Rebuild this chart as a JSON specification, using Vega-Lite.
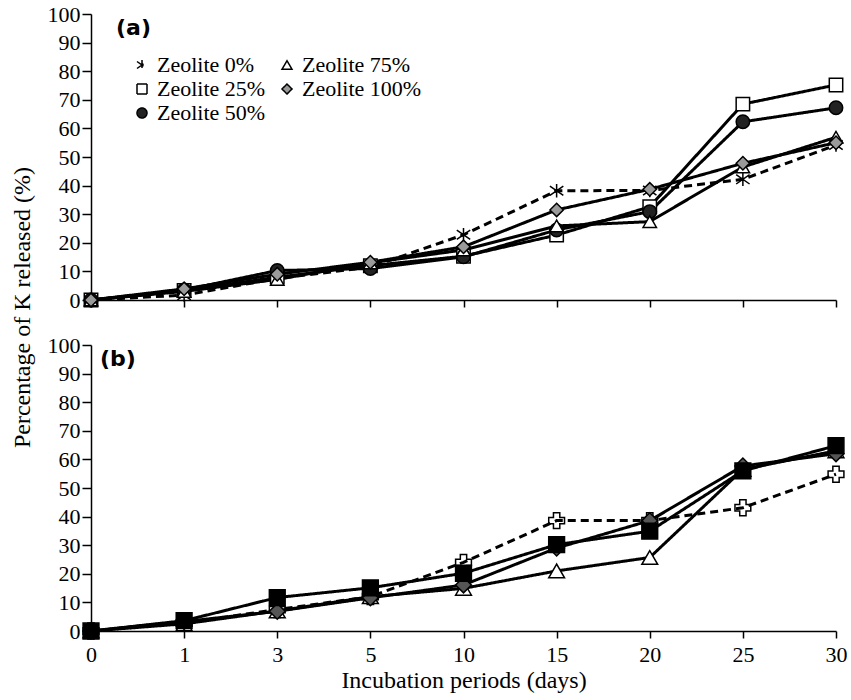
{
  "$schema": "https://vega.github.io/schema/vega-lite/v6.json",
  "background": "white",
  "padding": {"left": 10, "top": 3, "right": 10, "bottom": 3},
  "spacing": 45,
  "bounds": "flush",
  "resolve": {"scale": {"shape": "independent", "fill": "independent", "strokeDash": "independent"}, "legend": {"shape": "independent", "fill": "independent", "strokeDash": "independent"}},
  "config": {
    "view": {"stroke": null},
    "axis": {"labelFont": "Liberation Serif", "labelFontSize": 22, "labelColor": "black", "titleFont": "Liberation Serif", "titleFontSize": 24, "titleFontWeight": "normal", "titleColor": "black", "domainColor": "black", "tickColor": "black", "domainWidth": 1.5, "tickWidth": 1.5, "grid": false, "labelAngle": 0},
    "legend": {"labelFont": "Liberation Serif", "labelFontSize": 22, "labelColor": "black"}
  },
  "datasets": {
    "zeolite": [
      {"series": "Zeolite 0%", "day": 0, "pct": 0}, {"series": "Zeolite 0%", "day": 1, "pct": 1.7}, {"series": "Zeolite 0%", "day": 3, "pct": 7.5}, {"series": "Zeolite 0%", "day": 5, "pct": 11.5}, {"series": "Zeolite 0%", "day": 10, "pct": 22.8}, {"series": "Zeolite 0%", "day": 15, "pct": 38.2}, {"series": "Zeolite 0%", "day": 20, "pct": 38.3}, {"series": "Zeolite 0%", "day": 25, "pct": 42.2}, {"series": "Zeolite 0%", "day": 30, "pct": 54.2},
      {"series": "Zeolite 25%", "day": 0, "pct": 0}, {"series": "Zeolite 25%", "day": 1, "pct": 3.3}, {"series": "Zeolite 25%", "day": 3, "pct": 8}, {"series": "Zeolite 25%", "day": 5, "pct": 12}, {"series": "Zeolite 25%", "day": 10, "pct": 15.3}, {"series": "Zeolite 25%", "day": 15, "pct": 22.7}, {"series": "Zeolite 25%", "day": 20, "pct": 32.6}, {"series": "Zeolite 25%", "day": 25, "pct": 68.5}, {"series": "Zeolite 25%", "day": 30, "pct": 75.2},
      {"series": "Zeolite 50%", "day": 0, "pct": 0}, {"series": "Zeolite 50%", "day": 1, "pct": 3.5}, {"series": "Zeolite 50%", "day": 3, "pct": 10.3}, {"series": "Zeolite 50%", "day": 5, "pct": 11}, {"series": "Zeolite 50%", "day": 10, "pct": 15.1}, {"series": "Zeolite 50%", "day": 15, "pct": 24.5}, {"series": "Zeolite 50%", "day": 20, "pct": 30.9}, {"series": "Zeolite 50%", "day": 25, "pct": 62.3}, {"series": "Zeolite 50%", "day": 30, "pct": 67.2},
      {"series": "Zeolite 75%", "day": 0, "pct": 0}, {"series": "Zeolite 75%", "day": 1, "pct": 3}, {"series": "Zeolite 75%", "day": 3, "pct": 7.2}, {"series": "Zeolite 75%", "day": 5, "pct": 13}, {"series": "Zeolite 75%", "day": 10, "pct": 17.5}, {"series": "Zeolite 75%", "day": 15, "pct": 25.9}, {"series": "Zeolite 75%", "day": 20, "pct": 27.4}, {"series": "Zeolite 75%", "day": 25, "pct": 46.5}, {"series": "Zeolite 75%", "day": 30, "pct": 56.9},
      {"series": "Zeolite 100%", "day": 0, "pct": 0}, {"series": "Zeolite 100%", "day": 1, "pct": 3.9}, {"series": "Zeolite 100%", "day": 3, "pct": 9}, {"series": "Zeolite 100%", "day": 5, "pct": 13.2}, {"series": "Zeolite 100%", "day": 10, "pct": 18.6}, {"series": "Zeolite 100%", "day": 15, "pct": 31.5}, {"series": "Zeolite 100%", "day": 20, "pct": 38.7}, {"series": "Zeolite 100%", "day": 25, "pct": 47.8}, {"series": "Zeolite 100%", "day": 30, "pct": 55}
    ],
    "hucalci": [
      {"series": "Hucalci 0%", "day": 0, "pct": 0}, {"series": "Hucalci 0%", "day": 1, "pct": 2.8}, {"series": "Hucalci 0%", "day": 3, "pct": 7.5}, {"series": "Hucalci 0%", "day": 5, "pct": 12}, {"series": "Hucalci 0%", "day": 10, "pct": 24}, {"series": "Hucalci 0%", "day": 15, "pct": 38.6}, {"series": "Hucalci 0%", "day": 20, "pct": 38.6}, {"series": "Hucalci 0%", "day": 25, "pct": 43.1}, {"series": "Hucalci 0%", "day": 30, "pct": 54.8},
      {"series": "Hucalci 10%", "day": 0, "pct": 0}, {"series": "Hucalci 10%", "day": 1, "pct": 2.5}, {"series": "Hucalci 10%", "day": 3, "pct": 7}, {"series": "Hucalci 10%", "day": 5, "pct": 12}, {"series": "Hucalci 10%", "day": 10, "pct": 14.9}, {"series": "Hucalci 10%", "day": 15, "pct": 21}, {"series": "Hucalci 10%", "day": 20, "pct": 25.7}, {"series": "Hucalci 10%", "day": 25, "pct": 56.5}, {"series": "Hucalci 10%", "day": 30, "pct": 63},
      {"series": "Hucalci 20%", "day": 0, "pct": 0}, {"series": "Hucalci 20%", "day": 1, "pct": 3.3}, {"series": "Hucalci 20%", "day": 3, "pct": 6.9}, {"series": "Hucalci 20%", "day": 5, "pct": 11.6}, {"series": "Hucalci 20%", "day": 10, "pct": 16.1}, {"series": "Hucalci 20%", "day": 15, "pct": 29}, {"series": "Hucalci 20%", "day": 20, "pct": 38.6}, {"series": "Hucalci 20%", "day": 25, "pct": 57.7}, {"series": "Hucalci 20%", "day": 30, "pct": 62},
      {"series": "Hucalci 30%", "day": 0, "pct": 0}, {"series": "Hucalci 30%", "day": 1, "pct": 3.6}, {"series": "Hucalci 30%", "day": 3, "pct": 11.7}, {"series": "Hucalci 30%", "day": 5, "pct": 15.1}, {"series": "Hucalci 30%", "day": 10, "pct": 20.2}, {"series": "Hucalci 30%", "day": 15, "pct": 30.2}, {"series": "Hucalci 30%", "day": 20, "pct": 34.9}, {"series": "Hucalci 30%", "day": 25, "pct": 56}, {"series": "Hucalci 30%", "day": 30, "pct": 64.8}
    ]
  },
  "vconcat": [
    {
      "width": 745,
      "height": 286,
      "title": {"text": "(a)", "anchor": "start", "frame": "group", "font": "DejaVu Sans", "fontSize": 22, "fontWeight": "bold", "color": "black", "offset": -37, "dx": 25},
      "data": {"name": "zeolite"},
      "encoding": {
        "x": {"field": "day", "type": "ordinal", "scale": {"type": "point", "padding": 0, "domain": [0, 1, 3, 5, 10, 15, 20, 25, 30]}, "axis": {"labels": false, "title": null, "tickSize": 7}},
        "y": {"field": "pct", "type": "quantitative", "scale": {"domain": [0, 100], "nice": false}, "axis": {"values": [0, 10, 20, 30, 40, 50, 60, 70, 80, 90, 100], "tickSize": 9, "labelPadding": 2, "title": "Percentage of K released (%)", "titleX": -57, "titleY": 293, "titleAngle": -90, "titleBaseline": "bottom", "titleAlign": "center"}}
      },
      "layer": [
        {
          "mark": {"type": "line", "stroke": "black", "strokeWidth": 3},
          "encoding": {"strokeDash": {"field": "series", "type": "nominal", "scale": {"domain": ["Zeolite 0%", "Zeolite 25%", "Zeolite 50%", "Zeolite 75%", "Zeolite 100%"], "range": [[8, 5], [1, 0], [1, 0], [1, 0], [1, 0]]}, "legend": {"orient": "top-left", "offset": 40, "columns": 2, "title": null}}}
        },
        {
          "mark": {"type": "point", "filled": true, "stroke": "black", "strokeWidth": 1.5, "opacity": 1, "size": 180},
          "encoding": {
            "shape": {"field": "series", "type": "nominal", "scale": {"domain": ["Zeolite 0%", "Zeolite 25%", "Zeolite 50%", "Zeolite 75%", "Zeolite 100%"], "range": ["M0,-1V1M-1,-0.7L1,0.7M-1,0.7L1,-0.7", "square", "circle", "triangle-up", "diamond"]}, "legend": null},
            "fill": {"field": "series", "type": "nominal", "scale": {"domain": ["Zeolite 0%", "Zeolite 25%", "Zeolite 50%", "Zeolite 75%", "Zeolite 100%"], "range": ["transparent", "white", "#222222", "white", "#9a9a9a"]}, "legend": null}
          }
        }
      ]
    },
    {
      "width": 745,
      "height": 286,
      "title": {"text": "(b)", "anchor": "start", "frame": "group", "font": "DejaVu Sans", "fontSize": 22, "fontWeight": "bold", "color": "black", "offset": -37, "dx": 9},
      "data": {"name": "hucalci"},
      "encoding": {
        "x": {"field": "day", "type": "ordinal", "scale": {"type": "point", "padding": 0, "domain": [0, 1, 3, 5, 10, 15, 20, 25, 30]}, "axis": {"title": "Incubation periods (days)", "tickSize": 7, "labelPadding": 6, "titlePadding": 3}},
        "y": {"field": "pct", "type": "quantitative", "scale": {"domain": [0, 100], "nice": false}, "axis": {"values": [0, 10, 20, 30, 40, 50, 60, 70, 80, 90, 100], "tickSize": 9, "labelPadding": 2, "title": null}}
      },
      "layer": [
        {
          "mark": {"type": "line", "stroke": "black", "strokeWidth": 3},
          "encoding": {"strokeDash": {"field": "series", "type": "nominal", "scale": {"domain": ["Hucalci 0%", "Hucalci 10%", "Hucalci 20%", "Hucalci 30%"], "range": [[8, 5], [1, 0], [1, 0], [1, 0]]}, "legend": null}}
        },
        {
          "mark": {"type": "point", "filled": true, "stroke": "black", "strokeWidth": 1.5, "opacity": 1, "size": 250},
          "encoding": {
            "shape": {"field": "series", "type": "nominal", "scale": {"domain": ["Hucalci 0%", "Hucalci 10%", "Hucalci 20%", "Hucalci 30%"], "range": ["cross", "triangle-up", "diamond", "square"]}, "legend": {"orient": "top-left", "offset": 40, "columns": 2, "title": null}},
            "fill": {"field": "series", "type": "nominal", "scale": {"domain": ["Hucalci 0%", "Hucalci 10%", "Hucalci 20%", "Hucalci 30%"], "range": ["transparent", "white", "#555555", "black"]}, "legend": null}
          }
        }
      ]
    }
  ]
}
